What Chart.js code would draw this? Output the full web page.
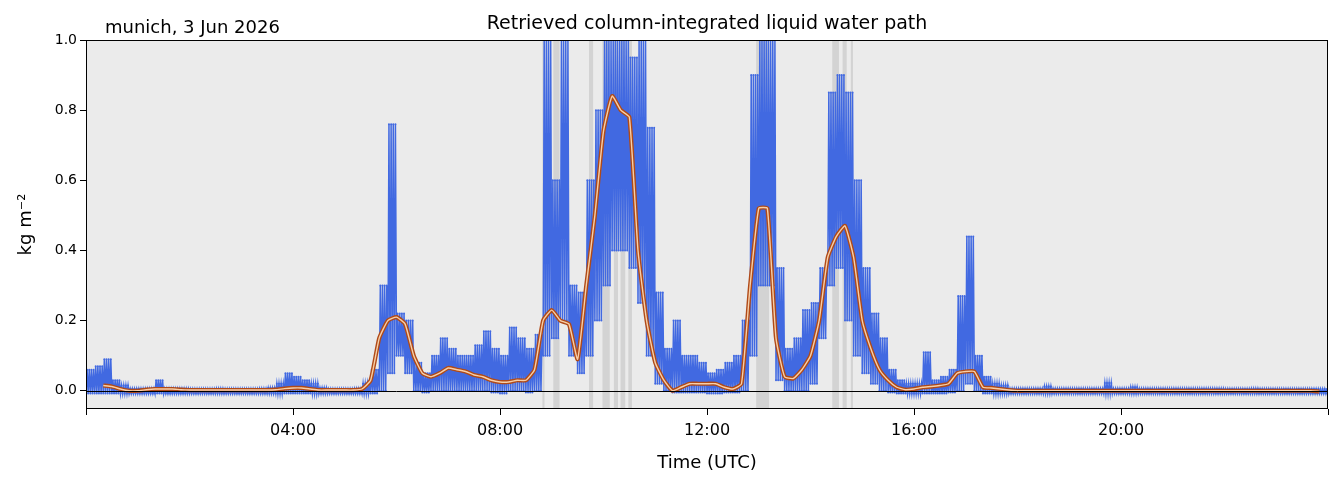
<!DOCTYPE html>
<html><head><meta charset="utf-8">
<script src="https://cdn.jsdelivr.net/npm/chart.js@4"></script>
<style>body{margin:0;background:#fff}#w{width:1339px;height:478px}</style>
</head><body><div id="w"><canvas id="c"></canvas></div>
<script>
const blueHi = [
.06,.07,.09,.03,.015,.006, .006,.006,.03,.006,.006,.006, .005,.005,.005,.006,.005,.005, .005,.005,.006,.008,.02,.05,
.04,.03,.02,.008,.005,.005, .005,.006,.02,.06,.3,.76, .22,.2,.08,.05,.1,.15, .12,.1,.1,.13,.17,.12,
.1,.18,.15,.12,.16,1.0, .6,1.0,.3,.28,.6,.8, 1.0,1.0,1.0,.95,1.0,.75, .28,.12,.2,.1,.1,.08,
.05,.06,.08,.1,.2,.9, 1.0,1.0,.35,.12,.15,.23, .25,.35,.85,.9,.85,.6, .35,.22,.15,.06,.03,.02,
.02,.11,.03,.04,.06,.27, .44,.1,.04,.02,.015,.006, .006,.006,.006,.012,.006,.006, .006,.006,.006,.006,.022,.006,
.006,.01,.006,.006,.006,.006, .006,.006,.006,.006,.006,.006, .005,.005,.005,.006,.005,.005, .005,.005,.005,.005,.005,.005];
const blueLo = [
-.008,-.008,-.008,-.008,-.008,-.008, -.008,-.008,-.008,-.008,-.008,-.008, -.008,-.008,-.008,-.008,-.008,-.008, -.008,-.008,-.008,-.008,-.008,-.008,
-.008,-.008,-.008,-.008,-.008,-.008, -.008,-.008,-.008,-.008,0,.05, .1,.05,0,-.005,0,0, 0,0,0,0,0,-.005,
-.008,0,0,-.005,0,.1, .15,.2,.1,.05,.1,.2, .3,.4,.4,.35,.25,.1, .02,0,-.005,-.005,-.005,-.005,
-.008,-.008,-.005,-.005,0,.1, .3,.3,.03,0,0,0, .02,.15,.3,.35,.2,.1, .05,.02,0,-.005,-.008,-.008,
-.008,-.008,-.008,-.008,-.005,0, .02,0,-.008,-.008,-.008,-.008, -.008,-.008,-.008,-.008,-.008,-.008, -.008,-.008,-.008,-.008,-.008,-.008,
-.008,-.008,-.008,-.008,-.008,-.008, -.008,-.008,-.008,-.008,-.008,-.008, -.008,-.008,-.008,-.008,-.008,-.008, -.008,-.008,-.008,-.008,-.008,-.008];
// smoothed LWP, 10-min steps starting 00:20
const smoothStart = 1/3;
const smooth = [
.015,.012,.005,0, 0,.003,.005,.005,.005,.003, .002,.002,.002,.002,.002,.002, .002,.002,.002,.002,.003,.006,
.008,.008,.005,.002,.002,.002, .002,.002,.005,.03,.15,.2, .21,.19,.1,.05,.04,.05, .065,.06,.055,.045,.04,.03,
.025,.025,.03,.03,.06,.2, .23,.2,.19,.09,.3,.5, .74,.84,.8,.78,.4,.2, .08,.03,0,.01,.02,.02,
.02,.02,.01,.005,.02,.3, .52,.52,.15,.04,.035,.06, .1,.2,.38,.44,.47,.38, .2,.12,.06,.03,.01,.003,
.005,.01,.012,.015,.02,.05, .055,.055,.01,.008,.005,.002, 0,0,0,0,0,0, 0,0,0,0,0,0,
0,0,0,0,0,0, 0,0,0,0,0,0, 0,0,0,0,0,0, 0,0,0,0,0,-.002];
const rainBands = [[8.82,8.86],[9.03,9.15],[9.72,9.8],[9.98,10.12],[10.2,10.28],[10.33,10.42],[10.48,10.55],[12.95,13.2],[14.42,14.55],[14.62,14.7],[14.78,14.82]];
const yTicks = [0,0.2,0.4,0.6,0.8,1.0];
const xTicks = [0,4,8,12,16,20,24];

const SUB = 8;
const bluePts = [];
blueHi.forEach((h,i)=>{
  for(let k=0;k<SUB;k++){
    const t=i/6+k/(6*SUB);
    bluePts.push({x:t,y:k%2?h:blueLo[i]});
  }
});
const smoothPts = smooth.map((v,i)=>({x:smoothStart+i/6,y:v}));

const deco = {
  id:'deco',
  beforeDatasetsDraw(ch){
    const {ctx,chartArea:a,scales:{x}}=ch;
    ctx.save();
    ctx.fillStyle='#ebebeb'; ctx.fillRect(a.left,a.top,a.right-a.left,a.bottom-a.top);
    ctx.fillStyle='#d3d3d3';
    rainBands.forEach(([s,e])=>{const x0=x.getPixelForValue(s),x1=x.getPixelForValue(e);ctx.fillRect(x0,a.top,Math.max(1,x1-x0),a.bottom-a.top);});
    ctx.restore();
  },
  afterDatasetsDraw(ch){
    const {ctx,chartArea:a,scales:{y}}=ch;
    ctx.save();
    ctx.strokeStyle='#000'; ctx.lineWidth=1;
    const y0=Math.round(y.getPixelForValue(0))+0.5;
    ctx.beginPath(); ctx.moveTo(a.left,y0); ctx.lineTo(a.right,y0); ctx.stroke();
    ctx.strokeRect(a.left+0.5,a.top+0.5,a.right-a.left-1,a.bottom-a.top-1);
    ctx.fillStyle='#000'; ctx.font='19px "DejaVu Sans"'; ctx.textAlign='center'; ctx.textBaseline='alphabetic';
    ctx.fillText('Retrieved column-integrated liquid water path',(a.left+a.right)/2,29);
    ctx.font='18px "DejaVu Sans"'; ctx.textAlign='left';
    ctx.fillText('munich, 3 Jun 2026',105,33);
    ctx.restore();
  }
};

new Chart(document.getElementById('c'),{
  type:'line',
  data:{datasets:[
    {data:smoothPts,borderColor:'#f7cfa8',borderWidth:1.4,pointRadius:0,tension:0.15,order:0},
    {data:smoothPts,borderColor:'#b04a18',borderWidth:4.2,pointRadius:0,tension:0.15,order:1},
    {data:bluePts,borderColor:'#4169e1',backgroundColor:'#4169e1',borderWidth:1.5,pointRadius:1,pointBorderWidth:0,order:2}
  ]},
  options:{
    responsive:true,maintainAspectRatio:false,animation:false,
    layout:{padding:{top:40,right:11,left:12,bottom:0}},
    plugins:{legend:{display:false},tooltip:{enabled:false}},
    scales:{
      x:{type:'linear',min:0,max:24,
        afterBuildTicks(s){s.ticks=xTicks.map(v=>({value:v}));},
        afterFit(s){s.height=69;},
        grid:{drawOnChartArea:false,drawTicks:true,tickLength:6,color:'#000'},
        border:{display:false},
        ticks:{color:'#000',font:{family:'DejaVu Sans',size:16},maxRotation:0,padding:6,
          callback:v=>(v===0||v===24)?'':String(v).padStart(2,'0')+':00'},
        title:{display:true,text:'Time (UTC)',color:'#000',font:{family:'DejaVu Sans',size:18},padding:{top:0}}
      },
      y:{min:-0.052,max:1.0,
        afterBuildTicks(s){s.ticks=yTicks.map(v=>({value:v}));},
        afterFit(s){s.width=74;},
        grid:{drawOnChartArea:false,drawTicks:true,tickLength:6,color:'#000'},
        border:{display:false},
        ticks:{color:'#000',font:{family:'DejaVu Sans',size:14},padding:3,callback:v=>v.toFixed(1)},
        title:{display:true,text:'kg m⁻²',color:'#000',font:{family:'DejaVu Sans',size:18},padding:{bottom:4}}
      }
    }
  },
  plugins:[deco]
});
</script></body></html>
